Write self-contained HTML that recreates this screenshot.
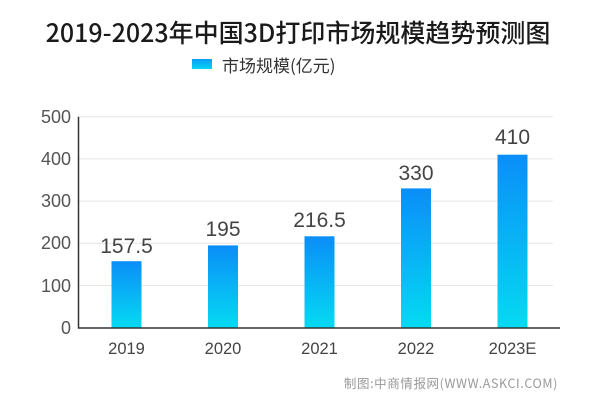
<!DOCTYPE html>
<html><head><meta charset="utf-8"><style>
html,body{margin:0;padding:0;background:#fff;}
svg{display:block;font-family:"Liberation Sans","Noto Sans CJK SC",sans-serif;}
</style></head><body>
<svg width="600" height="407" viewBox="0 0 600 407" xmlns="http://www.w3.org/2000/svg">
<defs>
<linearGradient id="g" x1="0" y1="0" x2="0" y2="1">
<stop offset="0" stop-color="#0a8ef8"/><stop offset="1" stop-color="#05daf2"/>
</linearGradient>
<linearGradient id="gl" x1="0" y1="0" x2="0" y2="1">
<stop offset="0" stop-color="#0a9cf8"/><stop offset="1" stop-color="#05d4f2"/>
</linearGradient>
</defs>
<text x="298" y="42" text-anchor="middle" font-size="25" font-weight="500" fill="#1a1a1a" font-family="'Noto Sans CJK SC',sans-serif">2019-2023年中国3D打印市场规模趋势预测图</text>
<rect x="192" y="59" width="20" height="10" fill="url(#gl)"/>
<text x="222" y="72" font-size="17" fill="#333" font-family="'Noto Sans CJK SC',sans-serif">市场规模(亿元)</text>
<g stroke="#e6e6e6" stroke-width="1">
<line x1="79" y1="116.7" x2="553" y2="116.7"/>
<line x1="79" y1="158.9" x2="553" y2="158.9"/>
<line x1="79" y1="201.1" x2="553" y2="201.1"/>
<line x1="79" y1="243.3" x2="553" y2="243.3"/>
<line x1="79" y1="285.5" x2="553" y2="285.5"/>
</g>
<g font-size="18" fill="#555" text-anchor="end">
<text x="71" y="123">500</text>
<text x="71" y="165">400</text>
<text x="71" y="207">300</text>
<text x="71" y="249">200</text>
<text x="71" y="292">100</text>
<text x="71" y="334">0</text>
</g>
<rect x="111.5" y="261.2" width="30" height="66.5" fill="url(#g)"/>
<rect x="208" y="245.4" width="30" height="82.3" fill="url(#g)"/>
<rect x="304.5" y="236.3" width="30" height="91.4" fill="url(#g)"/>
<rect x="401" y="188.4" width="30" height="139.3" fill="url(#g)"/>
<rect x="497.5" y="154.7" width="30" height="173" fill="url(#g)"/>
<line x1="78.5" y1="116.7" x2="78.5" y2="328.5" stroke="#333" stroke-width="1.5"/>
<line x1="78" y1="328" x2="560" y2="328" stroke="#333" stroke-width="1.5"/>
<g font-size="21" fill="#444" text-anchor="middle">
<text x="126.5" y="253">157.5</text>
<text x="223" y="236">195</text>
<text x="319.5" y="227">216.5</text>
<text x="416" y="180">330</text>
<text x="512.5" y="144">410</text>
</g>
<g font-size="16.5" fill="#444" text-anchor="middle">
<text x="126.5" y="354">2019</text>
<text x="223" y="354">2020</text>
<text x="319.5" y="354">2021</text>
<text x="416" y="354">2022</text>
<text x="512.5" y="354">2023E</text>
</g>
<text x="558" y="388" text-anchor="end" font-size="12.5" fill="#999" letter-spacing="0.6" font-family="'Noto Sans CJK SC',sans-serif">制图:中商情报网(WWW.ASKCI.COM)</text>
</svg>
</body></html>
